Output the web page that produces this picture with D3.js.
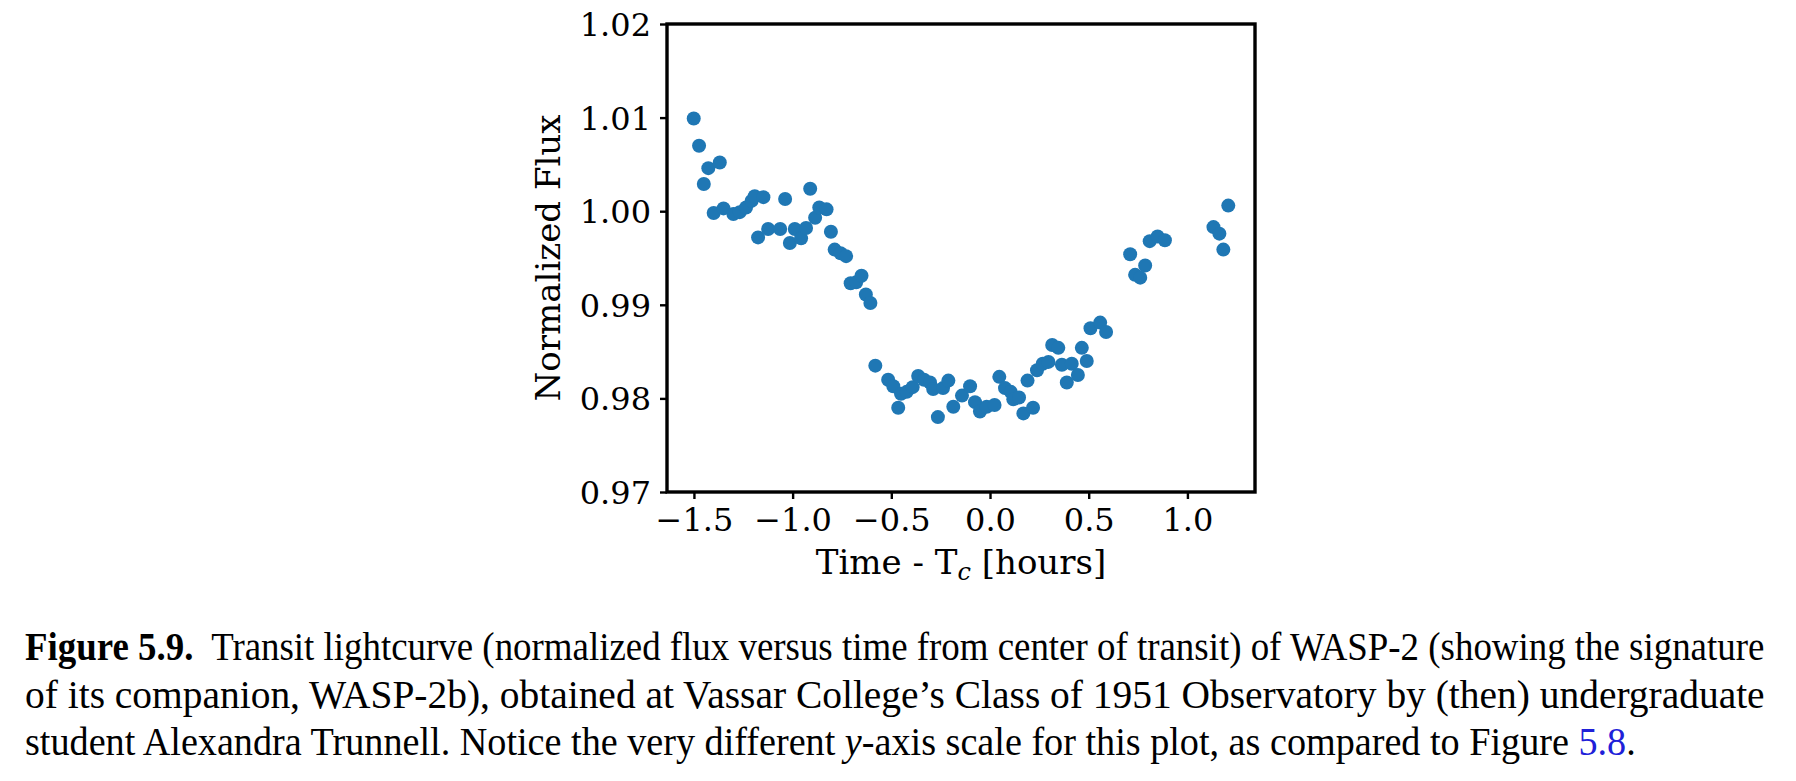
<!DOCTYPE html>
<html>
<head>
<meta charset="utf-8">
<script src="https://cdn.jsdelivr.net/npm/d3@7"></script>
<style>
  body { margin: 0; background: #fff; }
  svg { display: block; }
</style>
</head>
<body>
<svg id="fig" width="1796" height="781"></svg>
<script>
// hours from centre of transit
const time = [
  -1.501, -1.474, -1.450, -1.427, -1.400, -1.369, -1.350, -1.300, -1.268, -1.236,
  -1.208, -1.192, -1.175, -1.148, -1.124, -1.063, -1.038, -1.014, -0.989, -0.957,
  -0.932, -0.911, -0.886, -0.865, -0.828, -0.806, -0.787, -0.757, -0.729, -0.706,
  -0.678, -0.651, -0.629, -0.606, -0.581, -0.516, -0.490, -0.465, -0.451, -0.422,
  -0.392, -0.364, -0.334, -0.304, -0.288, -0.264, -0.238, -0.211, -0.186, -0.142,
  -0.101, -0.076, -0.051, -0.017, 0.023, 0.047, 0.076, 0.105, 0.118, 0.147,
  0.169, 0.190, 0.218, 0.238, 0.267, 0.296, 0.315, 0.346, 0.364, 0.389,
  0.414, 0.445, 0.465, 0.490, 0.509, 0.558, 0.588, 0.710, 0.735, 0.761,
  0.786, 0.809, 0.849, 0.886, 1.132, 1.162, 1.182, 1.207
];

const flux = [
  1.0099, 1.0070, 1.0029, 1.0046, 0.9998, 1.0052, 1.0003, 0.9997, 0.9999, 1.0004,
  1.0011, 1.0016, 0.9972, 1.0015, 0.9981, 0.9981, 1.0013, 0.9966, 0.9981, 0.9971,
  0.9982, 1.0024, 0.9993, 1.0004, 1.0002, 0.9978, 0.9959, 0.9955, 0.9952, 0.9923,
  0.9924, 0.9931, 0.9911, 0.9902, 0.9835, 0.9820, 0.9813, 0.9790, 0.9805, 0.9807,
  0.9812, 0.9824, 0.9820, 0.9817, 0.9810, 0.9780, 0.9811, 0.9819, 0.9791, 0.9803,
  0.9813, 0.9796, 0.9786, 0.9791, 0.9793, 0.9823, 0.9811, 0.9807, 0.9799, 0.9801,
  0.9784, 0.9819, 0.9790, 0.9830, 0.9837, 0.9839, 0.9857, 0.9854, 0.9836, 0.9817,
  0.9837, 0.9825, 0.9854, 0.9840, 0.9875, 0.9881, 0.9871, 0.9954, 0.9932, 0.9929,
  0.9942, 0.9968, 0.9973, 0.9969, 0.9983, 0.9976, 0.9959, 1.0006
];

const yTicks = [0.97, 0.98, 0.99, 1.00, 1.01, 1.02];
const xTicks = [-1.5, -1.0, -0.5, 0.0, 0.5, 1.0];

const yLabel = "Normalized Flux";
const xLabel = ["Time - T", "c", " [hours]"];

const captionLines = [
  [["Figure 5.9.", "bold"], ["  Transit lightcurve (normalized flux versus time from center of transit) of WASP-2 (showing the signature", ""]],
  [["of its companion, WASP-2b), obtained at Vassar College\u2019s Class of 1951 Observatory by (then) undergraduate", ""]],
  [["student Alexandra Trunnell. Notice the very different ", ""], ["y", "italic"], ["-axis scale for this plot, as compared to Figure ", ""], ["5.8", "link"], [".", ""]]
];

const svg = d3.select("#fig");
const plot = { left: 667, right: 1255, top: 24, bottom: 492 };
const axisFont = "'DejaVu Serif', serif";

// x range padded by 5% like matplotlib autoscale
const xExt = d3.extent(time);
const pad = (xExt[1] - xExt[0]) * 0.05;
const x = d3.scaleLinear().domain([xExt[0] - pad, xExt[1] + pad]).range([plot.left, plot.right]);
const y = d3.scaleLinear().domain([0.97, 1.02]).range([plot.bottom, plot.top]);

const points = time.map((t, i) => ({ t: t, f: flux[i] }));

svg.append("g")
  .selectAll("circle")
  .data(points)
  .join("circle")
  .attr("cx", d => x(d.t))
  .attr("cy", d => y(d.f))
  .attr("r", 7)
  .attr("fill", "#1f77b4");

// axes
const fmtX = v => d3.format(".1f")(v).replace("-", "\u2212");
const xAxis = svg.append("g")
  .attr("transform", `translate(0,${plot.bottom})`)
  .call(d3.axisBottom(x).tickValues(xTicks).tickFormat(fmtX).tickSize(7).tickPadding(9));

const yAxis = svg.append("g")
  .attr("transform", `translate(${plot.left},0)`)
  .call(d3.axisLeft(y).tickValues(yTicks).tickFormat(d3.format(".2f")).tickSize(7).tickPadding(9));

[xAxis, yAxis].forEach(g => {
  g.select(".domain").remove();
  g.selectAll(".tick line").attr("stroke", "#000").attr("stroke-width", 2.4);
  g.selectAll(".tick text")
    .attr("fill", "#000")
    .style("font-family", axisFont)
    .style("font-size", "32px");
});
xAxis.selectAll(".tick text").attr("dy", "0.71em");
yAxis.selectAll(".tick text").attr("dy", "0.36em");

// frame
svg.append("rect")
  .attr("x", plot.left)
  .attr("y", plot.top)
  .attr("width", plot.right - plot.left)
  .attr("height", plot.bottom - plot.top)
  .attr("fill", "none")
  .attr("stroke", "#000")
  .attr("stroke-width", 3.4);

// axis labels
svg.append("text")
  .attr("transform", `translate(560,${(plot.top + plot.bottom) / 2}) rotate(-90)`)
  .attr("text-anchor", "middle")
  .style("font-family", axisFont)
  .style("font-size", "34px")
  .text(yLabel);

const xl = svg.append("text")
  .attr("x", (plot.left + plot.right) / 2)
  .attr("y", 574)
  .attr("text-anchor", "middle")
  .style("font-family", axisFont)
  .style("font-size", "34px");
xl.append("tspan").text(xLabel[0]);
xl.append("tspan").attr("dy", 6).style("font-size", "24px").style("font-style", "italic").text(xLabel[1]);
xl.append("tspan").attr("dy", -6).text(xLabel[2]);

// caption, each line squeezed to the printed width
const capLeft = 25;
const capWidths = [1740, 1740, 1611];
const capBase = [660, 708, 755];

captionLines.forEach((parts, i) => {
  const t = svg.append("text")
    .attr("x", 0)
    .attr("y", 0)
    .attr("xml:space", "preserve")
    .style("font-family", "'Liberation Serif', 'Times New Roman', serif")
    .style("font-size", "40px")
    .attr("fill", "#000");
  parts.forEach(([str, kind]) => {
    const s = t.append("tspan").text(str);
    if (kind === "bold") s.style("font-weight", "bold");
    if (kind === "italic") s.style("font-style", "italic");
    if (kind === "link") s.attr("fill", "#2020d8");
  });
  const w = t.node().getComputedTextLength();
  t.attr("transform", `translate(${capLeft},${capBase[i]}) scale(${capWidths[i] / w},1)`);
});
</script>
</body>
</html>
